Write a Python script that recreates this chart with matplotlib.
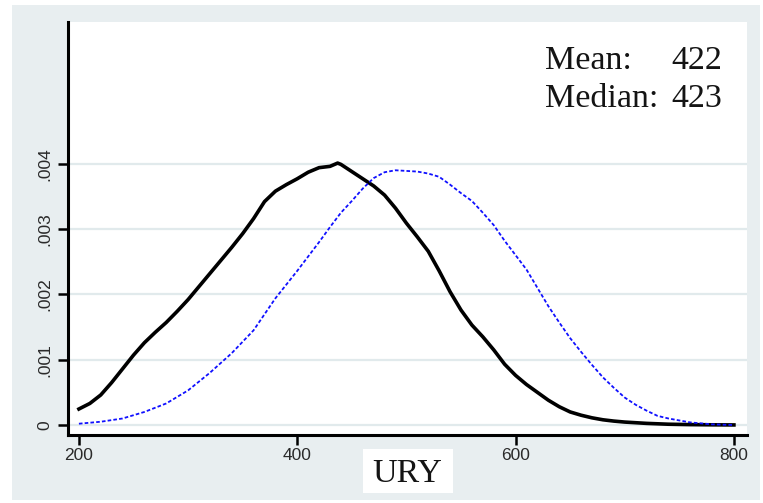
import matplotlib
matplotlib.use("Agg")
import matplotlib.pyplot as plt
from matplotlib.patches import Rectangle

# Kernel density estimates of URY scores
x_solid = [200, 210, 220, 230, 240, 250, 260, 270, 280, 290, 300, 310, 320, 330,
           340, 350, 360, 370, 380, 390, 400, 410, 420, 430, 437, 440, 450, 460,
           470, 480, 490, 500, 510, 520, 530, 540, 550, 560, 570, 580, 590, 600,
           610, 620, 630, 640, 650, 660, 670, 680, 690, 700, 720, 740, 760, 780, 800]
dens_solid = [0.245, 0.33, 0.46, 0.65, 0.86, 1.07, 1.26, 1.42, 1.57, 1.74, 1.92,
              2.12, 2.32, 2.52, 2.72, 2.93, 3.16, 3.42, 3.58, 3.68, 3.77, 3.87,
              3.94, 3.96, 4.01, 3.99, 3.88, 3.77, 3.66, 3.52, 3.32, 3.09, 2.88,
              2.66, 2.36, 2.04, 1.76, 1.53, 1.35, 1.15, 0.93, 0.76, 0.62, 0.50,
              0.38, 0.28, 0.20, 0.15, 0.11, 0.08, 0.06, 0.045, 0.025, 0.012,
              0.006, 0.003, 0.001]

x_dotted = [200, 220, 240, 260, 280, 300, 320, 340, 360, 380, 400, 410, 420, 430,
            440, 450, 460, 470, 480, 490, 500, 510, 520, 530, 540, 550, 560, 570,
            580, 590, 600, 610, 620, 630, 640, 650, 660, 670, 680, 690, 700, 710,
            720, 730, 740, 750, 760, 780, 800]
dens_dotted = [0.02, 0.05, 0.10, 0.20, 0.33, 0.53, 0.80, 1.10, 1.45, 1.94, 2.36,
               2.58, 2.80, 3.03, 3.25, 3.43, 3.62, 3.78, 3.87, 3.90, 3.89, 3.88,
               3.85, 3.80, 3.68, 3.55, 3.43, 3.25, 3.06, 2.82, 2.60, 2.38, 2.10,
               1.82, 1.57, 1.33, 1.12, 0.92, 0.73, 0.57, 0.42, 0.31, 0.22, 0.14,
               0.10, 0.07, 0.04, 0.01, 0.0]

x_ticks = [200, 400, 600, 800]
y_ticks = [0, 0.001, 0.002, 0.003, 0.004]
y_tick_labels = ["0", ".001", ".002", ".003", ".004"]
stats_names = ["Mean:", "Median:"]
stats_values = ["422", "423"]
x_title = "URY"

W, H = 763, 503
fig = plt.figure(figsize=(W / 100, H / 100), dpi=100, facecolor="white")

# light graph-region background
bg = "#e8eef0"
fig.patches.append(Rectangle((12 / W, 1 - 500 / H), (760 - 12) / W, (500 - 5) / H,
                             transform=fig.transFigure, facecolor=bg,
                             edgecolor="none", zorder=-10))

ax = fig.add_axes([68 / W, 1 - 435 / H, (747 - 68) / W, (435 - 22) / H])
ax.set_zorder(1)
ax.set_facecolor("white")

ax.plot(x_solid, [v / 1000 for v in dens_solid], color="black", lw=2.6,
        solid_joinstyle="round", zorder=3)
ax.plot(x_dotted, [v / 1000 for v in dens_dotted], color="#1010ff", lw=1.3,
        dashes=(2.0, 1.2), zorder=3)

ax.set_xlim(190, 812)
ax.set_ylim(-0.000153, 0.00617)

ax.set_yticks(y_ticks)
ax.set_yticklabels(y_tick_labels, rotation=90, va="center")
ax.set_xticks(x_ticks)
ax.set_xticklabels([str(t) for t in x_ticks])

for s in ["top", "right"]:
    ax.spines[s].set_visible(False)
for s in ["left", "bottom"]:
    ax.spines[s].set_linewidth(2.2)
    ax.spines[s].set_color("black")

ax.tick_params(axis="both", direction="out", length=7, width=1.8,
               color="black", labelcolor="#2a2a2a", labelsize=12.5)
ax.tick_params(axis="y", pad=4)
ax.tick_params(axis="x", pad=2.5)
for lab in ax.get_xticklabels() + ax.get_yticklabels():
    lab.set_family("Liberation Sans")

ax.grid(axis="y", color="#e1eaec", lw=1.6, zorder=1)
ax.set_axisbelow(True)

serif = "Liberation Serif"
for i, (nm, val) in enumerate(zip(stats_names, stats_values)):
    yb = [0.886, 0.794][i]
    ax.text(0.7025, yb, nm, transform=ax.transAxes, family=serif, fontsize=24.5,
            ha="left", va="baseline", color="#141414")
    ax.text(0.963, yb, val, transform=ax.transAxes, family=serif, fontsize=24.5,
            ha="right", va="baseline", color="#141414")

# axis title sits on a white box straddling the graph region
fig.patches.append(Rectangle((363 / W, 1 - 493 / H), 90 / W, 44 / H,
                             transform=fig.transFigure, facecolor="white",
                             edgecolor="none", zorder=4))
fig.text(407 / W, 1 - 482 / H, x_title, family=serif, fontsize=24.5,
         ha="center", va="baseline", color="#141414", zorder=5)

fig.savefig("out.png", dpi=100, facecolor=fig.get_facecolor())
